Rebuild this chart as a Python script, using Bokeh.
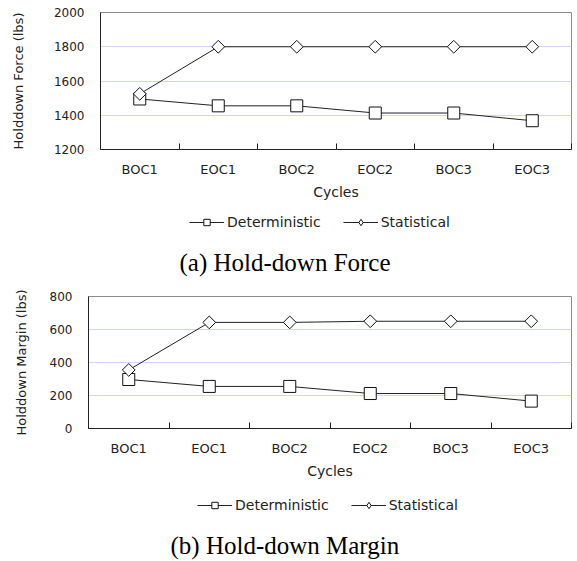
import math
from bokeh.plotting import figure
from bokeh.layouts import column
from bokeh.models import FixedTicker, Legend, LegendItem, Label, Range1d
from bokeh.embed import file_html
from bokeh.resources import INLINE

cycles = ["BOC1", "EOC1", "BOC2", "EOC2", "BOC3", "EOC3"]
force_det = [1495, 1455, 1455, 1413, 1413, 1368]
force_stat = [1525, 1800, 1800, 1800, 1800, 1800]
margin_det = [297, 255, 255, 212, 212, 166]
margin_stat = [355, 643, 643, 650, 650, 650]
force_ticks = [1200, 1400, 1600, 1800, 2000]
margin_ticks = [0, 200, 400, 600, 800]

SANS = "DejaVu Sans"
SERIF = "Liberation Serif"
W = 573


def add_series(p, xs, det, stat):
    l1 = p.line(xs, det, line_color="#222222", line_width=1)
    m1 = p.scatter(xs, det, marker="square", size=12, fill_color="white",
                   line_color="#111111", line_width=1)
    l2 = p.line(xs, stat, line_color="#222222", line_width=1)
    m2 = p.scatter(xs, stat, marker="square", angle=math.pi / 4, size=9,
                   fill_color="white", line_color="#111111", line_width=1)
    return l1, m1, l2, m2


def make_chart(det, stat, yticks, ylabel, left, top, frame_h, ylab_standoff):
    n = len(cycles)
    xs = [i + 0.5 for i in range(n)]
    bottom = 50
    p = figure(width=W, height=top + frame_h + bottom, output_backend="svg",
               toolbar_location=None, frame_align=False,
               x_range=Range1d(0, n), y_range=Range1d(yticks[0], yticks[-1]),
               min_border_left=left, min_border_top=top, min_border_right=2,
               min_border_bottom=bottom)
    p.title.visible = False
    p.outline_line_color = "#8c8c8c"
    p.outline_line_width = 1
    p.xgrid.visible = False
    p.ygrid.grid_line_color = "#d4d4fb"
    p.ygrid.ticker = FixedTicker(ticks=yticks)

    xa = p.xaxis[0]
    xa.ticker = FixedTicker(ticks=xs, minor_ticks=list(range(n + 1)))
    xa.major_label_overrides = {x: c for x, c in zip(xs, cycles)}
    xa.major_tick_in = 0
    xa.major_tick_out = 0
    xa.minor_tick_in = 6
    xa.minor_tick_out = 0
    xa.minor_tick_line_color = "#222222"
    xa.axis_line_color = "#222222"
    xa.major_label_standoff = 12
    xa.major_label_text_font = SANS
    xa.major_label_text_font_size = "13px"
    xa.major_label_text_color = "#222222"
    xa.axis_label = "Cycles"
    xa.axis_label_text_font = SANS
    xa.axis_label_text_font_size = "14px"
    xa.axis_label_text_font_style = "normal"
    xa.axis_label_text_color = "#222222"
    xa.axis_label_standoff = 4

    ya = p.yaxis[0]
    ya.ticker = FixedTicker(ticks=yticks)
    ya.major_tick_in = 0
    ya.major_tick_out = 0
    ya.minor_tick_line_color = None
    ya.axis_line_color = "#222222"
    ya.major_label_standoff = 16
    ya.major_label_text_font = SANS
    ya.major_label_text_font_size = "12px"
    ya.major_label_text_color = "#222222"
    ya.axis_label = ylabel
    ya.axis_label_text_font = SANS
    ya.axis_label_text_font_size = "13px"
    ya.axis_label_text_font_style = "normal"
    ya.axis_label_text_color = "#222222"
    ya.axis_label_standoff = ylab_standoff

    add_series(p, xs, det, stat)
    return p


def make_legend_caption(det, stat, caption, height, leg_xy, cap_xy):
    """Strip below a chart holding its legend and caption (series kept out of view)."""
    n = len(cycles)
    xs = [i + 0.5 for i in range(n)]
    p = figure(width=W, height=height, output_backend="svg", toolbar_location=None,
               frame_align=False,
               x_range=Range1d(0, n), y_range=Range1d(-2, -1),
               x_axis_location=None, y_axis_location=None,
               min_border_left=0, min_border_right=0, min_border_top=0,
               min_border_bottom=0)
    p.title.visible = False
    p.outline_line_color = None
    p.grid.visible = False
    l1, m1, l2, m2 = add_series(p, xs, det, stat)
    m2_leg = p.scatter(xs, stat, marker="diamond", size=0, fill_color="white",
                       line_color="#111111", line_width=1)
    legend = Legend(items=[LegendItem(label="Deterministic", renderers=[l1, m1]),
                           LegendItem(label="Statistical", renderers=[l2, m2_leg])],
                    orientation="horizontal", location=leg_xy,
                    label_text_font=SANS, label_text_font_size="14px",
                    label_text_color="#222222",
                    glyph_width=35, glyph_height=16, label_height=16,
                    label_standoff=3, spacing=22, padding=4, margin=0,
                    border_line_color=None, background_fill_alpha=0)
    p.add_layout(legend, "center")
    cap = Label(x=cap_xy[0], y=cap_xy[1], x_units="screen", y_units="screen",
                text=caption, text_font=SERIF, text_font_size="25px",
                text_color="black", text_baseline="middle", text_align="left")
    p.add_layout(cap)
    return p


a1 = make_chart(force_det, force_stat, force_ticks, "Holddown Force (lbs)",
                100, 12, 140, 25)
b1 = make_legend_caption(force_det, force_stat, "(a) Hold-down Force", 78,
                         (189, 50), (179, 18))
a2 = make_chart(margin_det, margin_stat, margin_ticks, "Holddown Margin (lbs)",
                88, 16, 135, 18)
b2 = make_legend_caption(margin_det, margin_stat, "(b) Hold-down Margin", 80,
                         (197, 48), (170, 16))

layout = column(a1, b1, a2, b2, spacing=0)
open("out.html", "w").write(file_html(layout, INLINE))
